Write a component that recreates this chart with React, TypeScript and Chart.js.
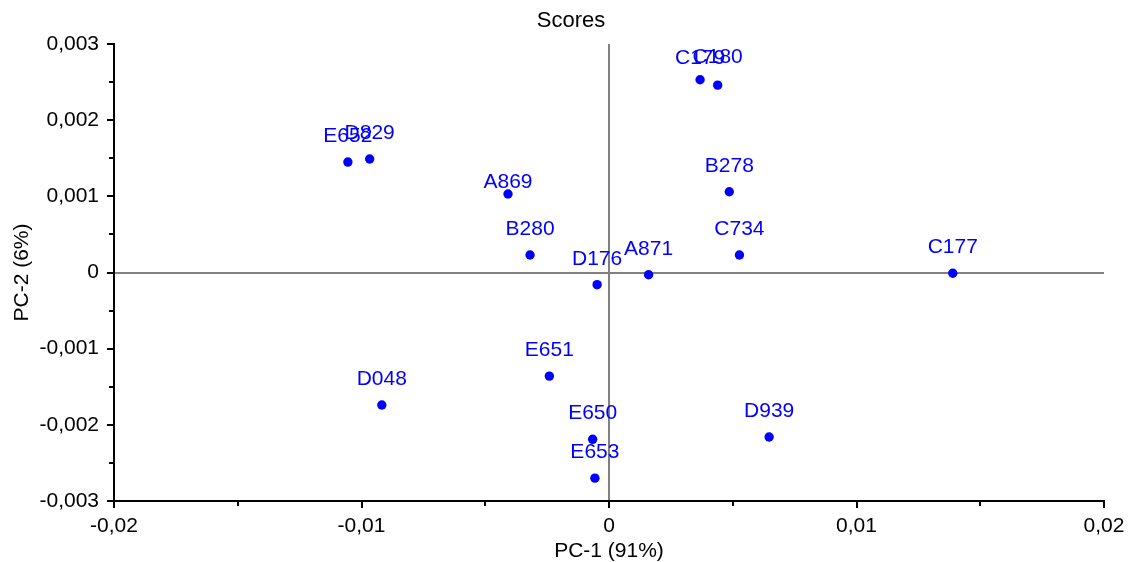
import React, { useEffect, useRef } from 'react';
import { Chart, registerables } from 'chart.js';

Chart.register(...registerables);

const sampleNames = ['C179', 'C180', 'E652', 'D829', 'A869', 'B278', 'B280', 'C734', 'A871', 'D176', 'C177', 'E651', 'D048', 'E650', 'D939', 'E653'];
const pc1Scores = [0.00368, 0.00439, -0.01055, -0.00967, -0.00408, 0.00486, -0.00319, 0.00527, 0.0016, -0.00048, 0.01389, -0.00241, -0.00918, -0.00066, 0.00647, -0.00057];
const pc2Scores = [0.00253, 0.00246, 0.00145, 0.00149, 0.00103, 0.00106, 0.00023, 0.00023, -0.00003, -0.00016, -0.00001, -0.00136, -0.00174, -0.00219, -0.00216, -0.0027];

const xRange = [-0.02, 0.02];
const yRange = [-0.003, 0.003];
const xMinorStep = 0.005;
const xMajorStep = 0.01;
const yMinorStep = 0.0005;
const yMajorStep = 0.001;

const FONT = '"Liberation Sans", Arial, sans-serif';
const BLUE = '#0000ff';

// label placement nudges (pixels, downward) as in the original's label layout
const labelNudge: Record<string, number> = { A869: 14, C179: 4, C180: -2 };

const isMultiple = (v: number, step: number) => Math.abs(v / step - Math.round(v / step)) < 1e-6;

const fmt = (v: number, step: number, digits: number) => {
  if (!isMultiple(v, step)) return '';
  if (Math.abs(v) < 1e-12) return '0';
  return v.toFixed(digits).replace('.', ',');
};

const tickMarks = {
  id: 'tickMarks',
  afterDraw(chart: any) {
    const ctx = chart.ctx;
    const xs = chart.scales.x;
    const ys = chart.scales.y;
    ctx.save();
    ctx.strokeStyle = '#000';
    ctx.lineWidth = 2;
    xs.ticks.forEach((t: any) => {
      const px = Math.round(xs.getPixelForValue(t.value));
      const len = isMultiple(t.value, xMajorStep) ? 7 : 5;
      ctx.beginPath();
      ctx.moveTo(px, chart.chartArea.bottom);
      ctx.lineTo(px, chart.chartArea.bottom + len);
      ctx.stroke();
    });
    ys.ticks.forEach((t: any) => {
      const py = Math.round(ys.getPixelForValue(t.value));
      const len = isMultiple(t.value, yMajorStep) ? 7 : 5;
      ctx.beginPath();
      ctx.moveTo(chart.chartArea.left, py);
      ctx.lineTo(chart.chartArea.left - len, py);
      ctx.stroke();
    });
    ctx.restore();
  },
};

const pointLabels = {
  id: 'pointLabels',
  afterDatasetsDraw(chart: any) {
    const ctx = chart.ctx;
    const meta = chart.getDatasetMeta(0);
    ctx.save();
    ctx.font = `21px ${FONT}`;
    ctx.fillStyle = BLUE;
    ctx.textAlign = 'center';
    ctx.textBaseline = 'alphabetic';
    meta.data.forEach((el: any, i: number) => {
      const name = sampleNames[i];
      ctx.fillText(name, el.x, el.y - 20 + (labelNudge[name] || 0));
    });
    ctx.restore();
  },
};

const canvasTitle = {
  id: 'canvasTitle',
  afterDraw(chart: any) {
    const ctx = chart.ctx;
    ctx.save();
    ctx.font = `22px ${FONT}`;
    ctx.fillStyle = '#000';
    ctx.textAlign = 'center';
    ctx.textBaseline = 'alphabetic';
    ctx.fillText('Scores', chart.width / 2 + 3, 27);
    ctx.restore();
  },
};

const zeroColor = (ctx: any) => (ctx.tick && Math.abs(ctx.tick.value) < 1e-12 ? '#808080' : 'rgba(0,0,0,0)');

export default function App() {
  const ref = useRef<HTMLCanvasElement | null>(null);

  useEffect(() => {
    document.body.style.margin = '0';
    if (!ref.current) return;
    const chart = new Chart(ref.current, {
      type: 'scatter',
      data: {
        datasets: [
          {
            label: 'Scores',
            data: pc1Scores.map((x, i) => ({ x, y: pc2Scores[i] })),
            backgroundColor: BLUE,
            borderWidth: 0,
            pointRadius: 4.7,
            pointHoverRadius: 4.7,
          },
        ],
      },
      options: {
        responsive: false,
        animation: false,
        layout: { padding: { left: 0, right: 32, top: 44, bottom: 0 } },
        plugins: {
          legend: { display: false },
          tooltip: { enabled: false },
          title: { display: false },
        },
        scales: {
          x: {
            type: 'linear',
            min: xRange[0],
            max: xRange[1],
            afterFit: (s: any) => {
              s.height = 61;
            },
            border: { display: true, color: '#000', width: 2 },
            grid: {
              drawOnChartArea: true,
              drawTicks: true,
              tickLength: 7,
              tickColor: 'rgba(0,0,0,0)',
              color: zeroColor,
              lineWidth: 2,
            },
            ticks: {
              stepSize: xMinorStep,
              autoSkip: false,
              maxRotation: 0,
              padding: 6,
              color: '#000',
              font: { family: FONT, size: 21 },
              callback: (v: any) => fmt(Number(v), xMajorStep, 2),
            },
            title: {
              display: true,
              text: 'PC-1 (91%)',
              color: '#000',
              font: { family: FONT, size: 21, lineHeight: 1 },
              padding: { top: 0, bottom: 0 },
            },
          },
          y: {
            type: 'linear',
            min: yRange[0],
            max: yRange[1],
            afterFit: (s: any) => {
              s.width = 114;
            },
            border: { display: true, color: '#000', width: 2 },
            grid: {
              drawOnChartArea: true,
              drawTicks: true,
              tickLength: 7,
              tickColor: 'rgba(0,0,0,0)',
              color: zeroColor,
              lineWidth: 2,
            },
            ticks: {
              stepSize: yMinorStep,
              autoSkip: false,
              padding: 8,
              color: '#000',
              font: { family: FONT, size: 21 },
              callback: (v: any) => fmt(Number(v), yMajorStep, 3),
            },
            title: {
              display: true,
              text: 'PC-2 (6%)',
              color: '#000',
              font: { family: FONT, size: 21, lineHeight: 1.2 },
              padding: { top: 10, bottom: 0 },
            },
          },
        },
      },
      plugins: [tickMarks, pointLabels, canvasTitle],
    } as any);
    return () => chart.destroy();
  }, []);

  return (
    <canvas
      ref={ref}
      width={1136}
      height={562}
      style={{ position: 'absolute', left: 0, top: 0, width: 1136, height: 562 }}
    />
  );
}
